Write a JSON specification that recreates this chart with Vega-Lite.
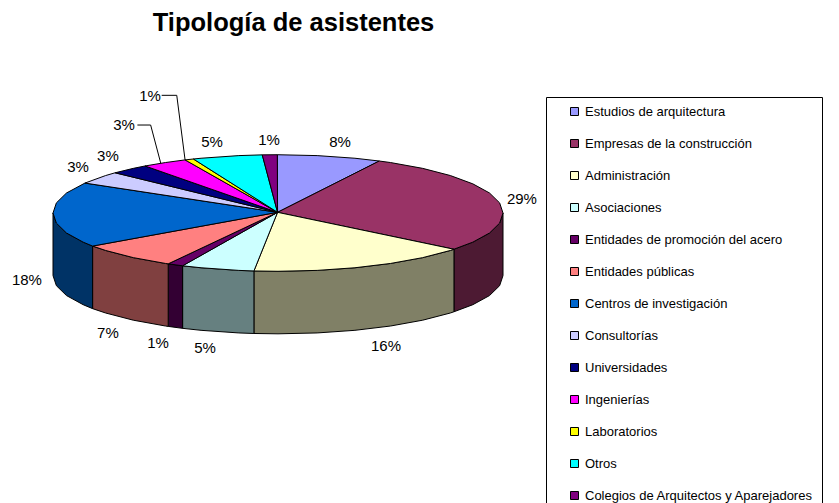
{"$schema":"https://vega.github.io/schema/vega-lite/v6.json","width":839,"height":503,"autosize":"none","padding":0,"background":"white","view":{"stroke":null},
"title":{"text":"Tipología de asistentes","font":"Liberation Sans","fontSize":25.5,"fontWeight":"bold","color":"#000000","anchor":"middle","dx":-126,"dy":36,"offset":0},
"projection":{"type":"identity","reflectY":true,"scale":2.25,"translate":[278,213]},
"config":{"legend":{"disable":false}},
"layer":[
{"data":{"values":[
{"type":"Feature","properties":{"nombre":"Empresas (lateral)"},"geometry":{"type":"Polygon","coordinates":[[[100,0],[98.5,-4.5],[94,-8.9],[86.6,-12.95],[78.2,-16.1],[78.2,-43.9],[86.6,-40.75],[94,-36.7],[98.5,-32.3],[100,-27.8],[100,0]]]}},
{"type":"Feature","properties":{"nombre":"Administración (lateral)"},"geometry":{"type":"Polygon","coordinates":[[[78.2,-16.1],[76.6,-16.65],[64.3,-19.84],[50,-22.43],[34.2,-24.34],[17.4,-25.51],[0,-25.9],[-10.7,-25.75],[-10.7,-53.55],[0,-53.7],[17.4,-53.31],[34.2,-52.14],[50,-50.23],[64.3,-47.64],[76.6,-44.45],[78.2,-43.9],[78.2,-16.1]]]}},
{"type":"Feature","properties":{"nombre":"Asociaciones (lateral)"},"geometry":{"type":"Polygon","coordinates":[[[-10.7,-25.75],[-17.4,-25.51],[-34.2,-24.34],[-42.4,-23.46],[-42.4,-51.26],[-34.2,-52.14],[-17.4,-53.31],[-10.7,-53.55],[-10.7,-25.75]]]}},
{"type":"Feature","properties":{"nombre":"Promoción (lateral)"},"geometry":{"type":"Polygon","coordinates":[[[-42.4,-23.46],[-48.8,-22.6],[-48.8,-50.4],[-42.4,-51.26],[-42.4,-23.46]]]}},
{"type":"Feature","properties":{"nombre":"Públicas (lateral)"},"geometry":{"type":"Polygon","coordinates":[[[-48.8,-22.6],[-50,-22.43],[-64.3,-19.84],[-76.6,-16.65],[-82.4,-14.7],[-82.4,-42.5],[-76.6,-44.45],[-64.3,-47.64],[-50,-50.23],[-48.8,-50.4],[-48.8,-22.6]]]}},
{"type":"Feature","properties":{"nombre":"Centros (lateral)"},"geometry":{"type":"Polygon","coordinates":[[[-82.4,-14.7],[-86.6,-12.95],[-94,-8.9],[-98.5,-4.5],[-100,0],[-100,-27.8],[-98.5,-32.3],[-94,-36.7],[-86.6,-40.75],[-82.4,-42.5],[-82.4,-14.7]]]}},
{"type":"Feature","properties":{"nombre":"Estudios de arquitectura"},"geometry":{"type":"Polygon","coordinates":[[[-0.2,0.3],[-0.3,25.9],[17.4,25.51],[34.2,24.34],[45,23.1],[-0.2,0.3]]]}},
{"type":"Feature","properties":{"nombre":"Empresas de la construcción"},"geometry":{"type":"Polygon","coordinates":[[[-0.2,0.3],[45,23.1],[50,22.43],[64.3,19.84],[76.6,16.65],[86.6,12.95],[94,8.9],[98.5,4.5],[100,0],[98.5,-4.5],[94,-8.9],[86.6,-12.95],[78.2,-16.1],[-0.2,0.3]]]}},
{"type":"Feature","properties":{"nombre":"Administración"},"geometry":{"type":"Polygon","coordinates":[[[-0.2,0.3],[78.2,-16.1],[76.6,-16.65],[64.3,-19.84],[50,-22.43],[34.2,-24.34],[17.4,-25.51],[0,-25.9],[-10.7,-25.75],[-0.2,0.3]]]}},
{"type":"Feature","properties":{"nombre":"Asociaciones"},"geometry":{"type":"Polygon","coordinates":[[[-0.2,0.3],[-10.7,-25.75],[-17.4,-25.51],[-34.2,-24.34],[-42.4,-23.46],[-0.2,0.3]]]}},
{"type":"Feature","properties":{"nombre":"Entidades de promoción del acero"},"geometry":{"type":"Polygon","coordinates":[[[-0.2,0.3],[-42.4,-23.46],[-48.8,-22.6],[-0.2,0.3]]]}},
{"type":"Feature","properties":{"nombre":"Entidades públicas"},"geometry":{"type":"Polygon","coordinates":[[[-0.2,0.3],[-48.8,-22.6],[-50,-22.43],[-64.3,-19.84],[-76.6,-16.65],[-82.4,-14.7],[-0.2,0.3]]]}},
{"type":"Feature","properties":{"nombre":"Centros de investigación"},"geometry":{"type":"Polygon","coordinates":[[[-0.2,0.3],[-82.4,-14.7],[-86.6,-12.95],[-94,-8.9],[-98.5,-4.5],[-100,0],[-98.5,4.5],[-94,8.9],[-85.8,13.3],[-0.2,0.3]]]}},
{"type":"Feature","properties":{"nombre":"Consultorías"},"geometry":{"type":"Polygon","coordinates":[[[-0.2,0.3],[-85.8,13.3],[-76.6,16.65],[-72.4,17.87],[-0.2,0.3]]]}},
{"type":"Feature","properties":{"nombre":"Universidades"},"geometry":{"type":"Polygon","coordinates":[[[-0.2,0.3],[-72.4,17.87],[-64.3,19.84],[-59.1,20.9],[-0.2,0.3]]]}},
{"type":"Feature","properties":{"nombre":"Ingenierías"},"geometry":{"type":"Polygon","coordinates":[[[-0.2,0.3],[-59.1,20.9],[-50,22.43],[-41.3,23.6],[-0.2,0.3]]]}},
{"type":"Feature","properties":{"nombre":"Laboratorios"},"geometry":{"type":"Polygon","coordinates":[[[-0.2,0.3],[-41.3,23.6],[-37.6,24],[-0.2,0.3]]]}},
{"type":"Feature","properties":{"nombre":"Otros"},"geometry":{"type":"Polygon","coordinates":[[[-0.2,0.3],[-37.6,24],[-34.2,24.34],[-17.4,25.51],[-7,25.84],[-0.2,0.3]]]}},
{"type":"Feature","properties":{"nombre":"Colegios de Arquitectos y Aparejadores"},"geometry":{"type":"Polygon","coordinates":[[[-0.2,0.3],[-7,25.84],[-0.3,25.9],[-0.2,0.3]]]}}
]},
"mark":{"type":"geoshape","stroke":"#000000","strokeWidth":1,"strokeJoin":"round"},
"encoding":{"color":{"field":"properties.nombre","type":"nominal","scale":{
"domain":["Estudios de arquitectura","Empresas de la construcción","Administración","Asociaciones","Entidades de promoción del acero","Entidades públicas","Centros de investigación","Consultorías","Universidades","Ingenierías","Laboratorios","Otros","Colegios de Arquitectos y Aparejadores","Empresas (lateral)","Administración (lateral)","Asociaciones (lateral)","Promoción (lateral)","Públicas (lateral)","Centros (lateral)"],
"range":["#9999FF","#993366","#FFFFCC","#CCFFFF","#660066","#FF8080","#0066CC","#CCCCFF","#000080","#FF00FF","#FFFF00","#00FFFF","#800080","#4D1A33","#808066","#668080","#330033","#804040","#003366"]},
"legend":{"title":null,"orient":"none","legendX":546,"legendY":97,"values":["Estudios de arquitectura","Empresas de la construcción","Administración","Asociaciones","Entidades de promoción del acero","Entidades públicas","Centros de investigación","Consultorías","Universidades","Ingenierías","Laboratorios","Otros","Colegios de Arquitectos y Aparejadores"],
"symbolType":"square","symbolSize":64,"symbolStrokeColor":"#000000","symbolStrokeWidth":1,"symbolOffset":14,"labelFont":"Liberation Sans","labelFontSize":13,"labelColor":"#000000","labelLimit":400,"labelOffset":4,"rowPadding":18,"padding":8,"strokeColor":"#000000","fillColor":"#FFFFFF","clipHeight":13}}}},
{"data":{"values":[
{"type":"Feature","properties":{},"geometry":{"type":"LineString","coordinates":[[-51.7,52.3],[-45,52.3],[-41.3,23.6]]}},
{"type":"Feature","properties":{},"geometry":{"type":"LineString","coordinates":[[-62.5,39.1],[-56.6,39.1],[-52.1,22.1]]}}
]},
"mark":{"type":"geoshape","filled":false,"stroke":"#000000","strokeWidth":1}},
{"data":{"values":[
{"etiqueta":"8%","lon":27.6,"lat":31.6},
{"etiqueta":"29%","lon":108.4,"lat":6.2},
{"etiqueta":"16%","lon":48,"lat":-59},
{"etiqueta":"5%","lon":-32.4,"lat":-60},
{"etiqueta":"1%","lon":-53.3,"lat":-57.8},
{"etiqueta":"7%","lon":-75.6,"lat":-53.3},
{"etiqueta":"18%","lon":-111.6,"lat":-29.8},
{"etiqueta":"3%","lon":-88.9,"lat":20.4},
{"etiqueta":"3%","lon":-75.6,"lat":25.3},
{"etiqueta":"3%","lon":-68.4,"lat":39.1},
{"etiqueta":"1%","lon":-56.9,"lat":52},
{"etiqueta":"5%","lon":-29.3,"lat":31.6},
{"etiqueta":"1%","lon":-4,"lat":32.4}
]},
"mark":{"type":"text","font":"Liberation Sans","fontSize":15,"color":"#000000","align":"center","baseline":"middle"},
"encoding":{"longitude":{"field":"lon","type":"quantitative"},"latitude":{"field":"lat","type":"quantitative"},"text":{"field":"etiqueta","type":"nominal"}}}
]}
